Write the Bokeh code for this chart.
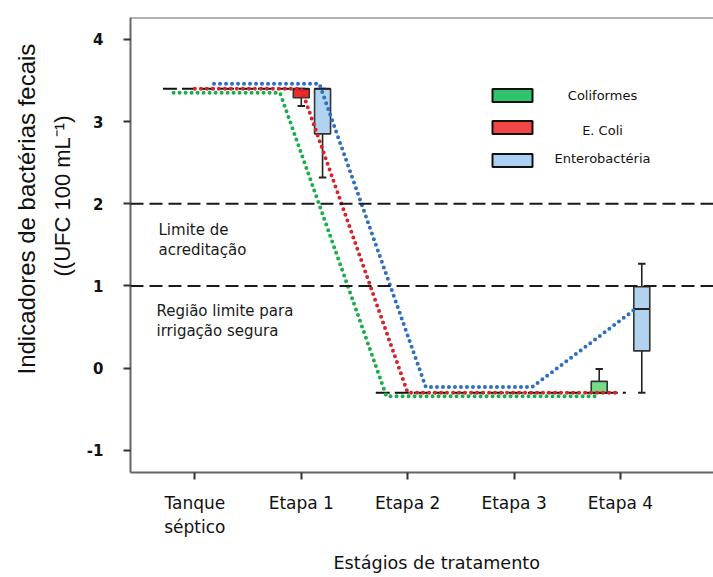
from bokeh.plotting import figure
from bokeh.models import Range1d, FixedTicker, Span, ColumnDataSource, Title
from bokeh.core.properties import value
from bokeh.embed import file_html
from bokeh.resources import INLINE

# ---------------- data ----------------
stage_labels = ["Tanque\nséptico", "Etapa 1", "Etapa 2", "Etapa 3", "Etapa 4"]
stage_pos = [0, 1, 2, 3, 4]
y_ticks = [-1, 0, 1, 2, 3, 4]
y_tick_labels = ["-1", "0", "1", "2", "3", "4"]

series_names = ["Coliformes", "E. Coli", "Enterobactéria"]

# dotted trend paths (x in stage units incl. small series offset)
coli_x = [-0.2, 0.8, 1.8, 3.8]
coli_y = [3.35, 3.35, -0.34, -0.34]
ecoli_x = [0.0, 1.0, 2.0, 3.95]
ecoli_y = [3.40, 3.40, -0.30, -0.30]
entero_x = [0.18, 1.17, 2.17, 3.17, 4.14]
entero_y = [3.46, 3.46, -0.23, -0.23, 0.72]

# black dashed segments (mean levels)
mean_x0 = [-0.30, 1.70]
mean_x1 = [0.90, 4.05]
mean_y = [3.40, -0.30]

# box plots
box_series = ["E. Coli", "Enterobactéria", "Coliformes", "Enterobactéria"]
box_x = [1.0, 1.2, 3.8, 4.2]
box_q1 = [3.29, 2.85, -0.30, 0.21]
box_q3 = [3.40, 3.40, -0.16, 0.99]
box_med = [3.40, 3.40, -0.30, 0.72]
whisk_lo = [3.19, 2.32, -0.30, -0.30]
whisk_hi = [3.40, 3.40, -0.01, 1.27]

# limits
limit_levels = [2.0, 1.0]
limit_texts = ["Limite de\nacreditação", "Região limite para\nirrigação segura"]

y_title = ["Indicadores de bactérias fecais", "((UFC 100 mL\u207b\u00b9)"]
x_title = "Estágios de tratamento"

# ---------------- styles ----------------
dot_colors = {"Coliformes": "#19ad4b", "E. Coli": "#d8232a", "Enterobactéria": "#2e6fc2"}
fill_colors = {"Coliformes": "#2fc46c", "E. Coli": "#f04646", "Enterobactéria": "#acd0f2"}
box_fill = {"Coliformes": "#78dc86", "E. Coli": "#ee2b2b", "Enterobactéria": "#b2d3f0"}

FONT = "DejaVu Sans"
BOX_W = 0.15
CAP_W = 0.07

X0, X1 = -0.605, 4.874
Y0, Y1 = -1.269, 4.266
FW, FH = 583, 455
LEFT, TOP = 130, 17


def dx(px):  # page pixel x -> data
    return X0 + (px - LEFT) / FW * (X1 - X0)


def dy(py):  # page pixel y -> data
    return Y1 - (py - TOP) / FH * (Y1 - Y0)


p = figure(frame_width=FW, frame_height=FH,
           x_range=Range1d(X0, X1), y_range=Range1d(Y0, Y1),
           output_backend="svg", toolbar_location=None,
           min_border_left=LEFT, min_border_right=0,
           min_border_top=TOP, min_border_bottom=577 - TOP - FH)
p.outline_line_color = None
p.grid.visible = False
p.background_fill_color = "white"
p.border_fill_color = "white"

# axes
p.yaxis.ticker = FixedTicker(ticks=y_ticks)
p.yaxis.major_label_overrides = {t: s for t, s in zip(y_ticks, y_tick_labels)}
p.xaxis.ticker = FixedTicker(ticks=stage_pos)
p.xaxis.major_label_overrides = {i: s for i, s in zip(stage_pos, stage_labels)}
for ax in (p.xaxis, p.yaxis):
    ax.axis_line_color = "#666666"
    ax.axis_line_width = 2
    ax.major_tick_line_color = "#333333"
    ax.major_tick_line_width = 2
    ax.major_tick_out = 7
    ax.major_tick_in = 0
    ax.minor_tick_line_color = None
    ax.major_label_text_font = FONT
    ax.major_label_text_color = "#111111"

p.yaxis.major_label_text_font_size = "15px"
p.yaxis.major_label_text_font_style = "bold"
p.yaxis.major_label_standoff = 20

p.xaxis.major_label_text_font_size = "17px"
p.xaxis.major_label_standoff = 13

# axis titles as side titles (off-centre like the original)
p.add_layout(Title(text=y_title[1], align="left", offset=196, standoff=17,
                   text_font="Liberation Sans", text_font_size="22px",
                   text_font_style="normal", text_color="#111111"), "left")
p.add_layout(Title(text=y_title[0], align="left", offset=98, standoff=0,
                   text_font="Liberation Sans", text_font_size="24px",
                   text_font_style="normal", text_color="#111111"), "left")
p.add_layout(Title(text=x_title, align="left", offset=203, standoff=22,
                   text_font=FONT, text_font_size="17.6px",
                   text_font_style="normal", text_color="#111111"), "below")

# top border
p.add_layout(Span(location=Y1, dimension="width", line_color="#666666", line_width=2))

# limit lines
for lv in limit_levels:
    p.add_layout(Span(location=lv, dimension="width", line_color="#1a1a1a",
                      line_width=2, line_dash="13 6"))

p.text(x=[dx(158), dx(156)], y=[dy(220), dy(301)], text=limit_texts,
       text_font=value(FONT), text_font_size=value("15px"), text_color="#1a1a1a",
       text_baseline="top", text_align="left", text_line_height=1.15)

# black dashed mean segments
p.segment(x0=mean_x0, y0=mean_y, x1=mean_x1, y1=mean_y,
          line_color="#111111", line_width=2, line_dash="14 5")

# boxes
bsrc = ColumnDataSource(dict(
    x=box_x, q1=box_q1, q3=box_q3, med=box_med, lo=whisk_lo, hi=whisk_hi,
    capl=[x - CAP_W / 2 for x in box_x], capr=[x + CAP_W / 2 for x in box_x],
    boxl=[x - BOX_W / 2 for x in box_x], boxr=[x + BOX_W / 2 for x in box_x],
    fill=[box_fill[s] for s in box_series],
))
p.segment(x0="x", y0="lo", x1="x", y1="q1", source=bsrc, line_color="#222222", line_width=1.6)
p.segment(x0="x", y0="q3", x1="x", y1="hi", source=bsrc, line_color="#222222", line_width=1.6)
p.segment(x0="capl", y0="lo", x1="capr", y1="lo", source=bsrc, line_color="#222222", line_width=2)
p.segment(x0="capl", y0="hi", x1="capr", y1="hi", source=bsrc, line_color="#222222", line_width=2)
p.vbar(x="x", bottom="q1", top="q3", width=BOX_W, source=bsrc,
       fill_color="fill", line_color="#333333", line_width=1.6)
p.segment(x0="boxl", y0="med", x1="boxr", y1="med", source=bsrc,
          line_color="#222222", line_width=2)

# dotted trend lines
for name, xs, ys in [("Coliformes", coli_x, coli_y),
                     ("E. Coli", ecoli_x, ecoli_y),
                     ("Enterobactéria", entero_x, entero_y)]:
    p.line(xs, ys, line_color=dot_colors[name], line_width=4,
           line_dash="0 6", line_cap="round")

# manual legend
leg_y_px = [95, 127, 160]
leg_t_px = [95, 130, 158]
p.rect(x=[dx(512)] * 3, y=[dy(v) for v in leg_y_px], width=40, height=13,
       width_units="screen", height_units="screen",
       fill_color=[fill_colors[s] for s in series_names],
       line_color="#111111", line_width=2)
p.text(x=[dx(602)] * 3, y=[dy(v) for v in leg_t_px], text=series_names,
       text_font=value(FONT), text_font_size=value("13px"), text_color="#111111",
       text_align="center", text_baseline="middle")

open("out.html", "w").write(file_html(p, INLINE))
